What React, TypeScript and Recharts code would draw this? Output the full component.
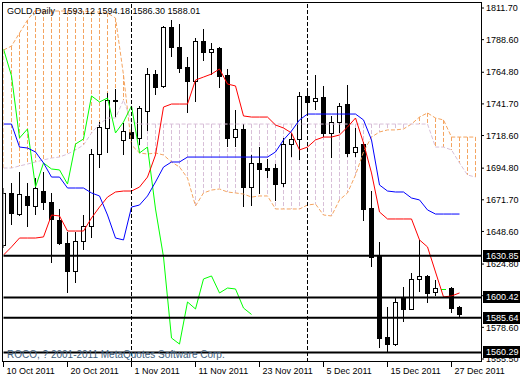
import { ComposedChart, Bar, Line, XAxis, YAxis, ReferenceLine } from 'recharts'

const FONT = '"Liberation Sans", Arial, sans-serif'

// x axis labels every 8 daily bars
const dateTicks = [0, 8, 16, 24, 32, 40, 48, 56]
const dateLabels = ['10 Oct 2011', '20 Oct 2011', '1 Nov 2011', '11 Nov 2011', '23 Nov 2011', '5 Dec 2011', '15 Dec 2011', '27 Dec 2011']
const priceTicks = [1811.7, 1788.6, 1764.8, 1741.7, 1718.6, 1694.8, 1671.7, 1648.6, 1624.8, 1601.7, 1578.6, 1555.5]
const levels = [1630.85, 1600.42, 1585.64, 1560.29]
const monthSeparators = [16, 38]

const open = [1638.7, 1676.7, 1661.3, 1674.5, 1667.2, 1678.1, 1670.1, 1657.0, 1640.2, 1619.7,
  1641.6, 1652.6, 1705.1, 1724.1, 1744.5, 1715.4, 1721.2, 1716.8, 1736.5, 1763.5,
  1754.8, 1797.8, 1783.2, 1768.6, 1758.4, 1787.6, 1779.6, 1782.5, 1762.8, 1717.5,
  1723.4, 1681.0, 1698.6, 1694.9, 1694.9, 1684.0, 1712.4, 1716.1, 1747.5, 1743.8,
  1746.7, 1720.5, 1728.5, 1741.6, 1706.6, 1712.4, 1665.7, 1630.7, 1571.6, 1566.4,
  1600.0, 1592.0, 1613.9, 1616.1, 1604.4, 1606.6, 1607.3, 1593.12]
const high = [1680.3, 1684.0, 1692.0, 1684.0, 1687.6, 1692.0, 1676.7, 1665.0, 1648.2, 1648.2,
  1660.6, 1708.8, 1728.5, 1749.7, 1752.6, 1727.8, 1724.1, 1740.2, 1767.9, 1766.4,
  1798.6, 1802.9, 1800.0, 1775.9, 1789.8, 1796.4, 1786.2, 1783.2, 1767.2, 1737.3,
  1727.0, 1704.4, 1710.2, 1701.5, 1697.8, 1716.8, 1720.5, 1750.4, 1750.4, 1762.8,
  1754.8, 1732.9, 1742.4, 1755.5, 1724.1, 1713.9, 1678.1, 1640.9, 1593.5, 1600.0,
  1608.1, 1618.3, 1642.4, 1616.8, 1613.2, 1606.6, 1608.1, 1594.18]
const low = [1636.5, 1653.3, 1659.9, 1651.9, 1660.6, 1664.3, 1625.6, 1638.7, 1603.7, 1611.0,
  1635.1, 1643.8, 1694.9, 1705.9, 1732.1, 1704.4, 1682.5, 1711.7, 1721.9, 1748.2,
  1753.3, 1775.9, 1764.3, 1735.1, 1743.1, 1773.0, 1762.8, 1753.3, 1710.2, 1710.2,
  1666.4, 1667.2, 1675.9, 1687.6, 1670.8, 1681.0, 1702.9, 1700.8, 1735.8, 1737.3,
  1717.5, 1702.2, 1720.5, 1702.9, 1702.9, 1656.2, 1622.7, 1563.5, 1560.6, 1565.0,
  1582.5, 1591.3, 1604.4, 1596.4, 1601.5, 1606.6, 1589.1, 1586.3]
const close = [1676.7, 1662.1, 1675.9, 1667.9, 1680.3, 1670.1, 1657.7, 1640.2, 1619.7, 1641.6,
  1652.6, 1705.1, 1724.8, 1744.5, 1743.5, 1721.9, 1716.8, 1738.7, 1763.5, 1754.0,
  1797.8, 1783.2, 1767.9, 1758.4, 1787.6, 1779.6, 1781.8, 1762.1, 1716.8, 1723.4,
  1681.0, 1698.6, 1694.2, 1693.5, 1683.2, 1712.4, 1716.1, 1747.5, 1743.1, 1746.0,
  1720.5, 1728.5, 1740.2, 1705.9, 1710.2, 1665.0, 1630.0, 1570.8, 1566.4, 1597.1,
  1592.0, 1613.9, 1616.1, 1603.7, 1607.3, 1606.6, 1592.7, 1588.01]

// Ichimoku lines
const tenkan = [1631.4, 1637.3, 1643.8, 1643.8, 1643.8, 1644.6, 1660.6, 1659.9, 1648.9, 1648.9,
  1648.9, 1658.4, 1666.4, 1673.7, 1677.4, 1678.1, 1678.1, 1681.0, 1688.3, 1704.4,
  1739.4, 1741.6, 1741.6, 1741.6, 1759.1, 1761.3, 1763.5, 1767.2, 1756.2, 1754.8,
  1732.9, 1732.1, 1732.1, 1732.1, 1726.3, 1724.1, 1720.5, 1708.1, 1710.2, 1715.4,
  1717.5, 1717.5, 1719.0, 1724.8, 1731.4, 1713.2, 1691.3, 1662.8, 1657.7, 1657.7,
  1657.7, 1657.7, 1642.4, 1637.3, 1619.0, 1600.8, 1601.5, 1603.7]
const kijun = [1727.0, 1727.0, 1710.2, 1709.5, 1706.6, 1698.6, 1688.3, 1688.3, 1680.3, 1680.3,
  1680.3, 1676.7, 1674.5, 1660.6, 1643.8, 1642.4, 1666.4, 1667.9, 1674.5, 1684.7,
  1695.6, 1699.3, 1699.3, 1702.9, 1702.9, 1702.9, 1702.9, 1702.9, 1702.9, 1702.9,
  1702.9, 1702.9, 1702.9, 1702.9, 1706.6, 1715.4, 1721.9, 1730.0, 1734.3, 1734.3,
  1734.3, 1734.3, 1734.3, 1734.3, 1734.3, 1730.0, 1715.4, 1682.5, 1678.1, 1677.4,
  1677.4, 1673.0, 1671.6, 1664.3, 1661.3, 1661.3, 1661.3, 1661.3]
const chikou = [1781.8, 1762.1, 1716.8, 1723.4, 1681.0, 1698.6, 1694.2, 1693.5, 1683.2, 1712.4,
  1716.1, 1747.5, 1743.1, 1746.0, 1720.5, 1728.5, 1740.2, 1705.9, 1710.2, 1665.0,
  1630.0, 1570.8, 1566.4, 1597.1, 1592.0, 1613.9, 1616.1, 1603.7, 1607.3, 1606.6,
  1592.7, 1588.01]
const spanA = [1781.0, 1783.9, 1793.4, 1802.9, 1810.2, 1809.5, 1809.5, 1809.5, 1809.5, 1809.5,
  1809.5, 1808.8, 1808.8, 1808.0, 1804.4, 1762.8, 1711.7, 1705.9, 1705.1, 1705.9,
  1704.4, 1699.3, 1695.6, 1687.6, 1667.2, 1676.7, 1678.8, 1679.6, 1677.4, 1676.7,
  1675.9, 1673.7, 1674.5, 1674.5, 1665.0, 1665.0, 1665.0, 1665.0, 1667.9, 1668.6,
  1660.6, 1659.9, 1671.6, 1676.7, 1689.8, 1706.6, 1717.5, 1721.2, 1722.7, 1722.7,
  1723.4, 1727.0, 1732.1, 1735.1, 1731.4, 1730.0, 1717.5, 1717.5, 1717.5, 1717.5]
const spanB = [1694.9, 1694.9, 1696.4, 1697.8, 1699.3, 1700.8, 1702.2, 1702.9, 1705.1, 1708.1,
  1711.7, 1720.5, 1727.0, 1731.4, 1731.4, 1744.5, 1728.5, 1727.0, 1727.0, 1727.0,
  1727.0, 1727.0, 1727.0, 1727.0, 1727.0, 1727.0, 1727.0, 1727.0, 1727.0, 1727.0,
  1727.0, 1727.0, 1727.0, 1727.0, 1727.0, 1727.0, 1727.0, 1727.0, 1727.0, 1727.0,
  1727.0, 1727.0, 1727.0, 1727.0, 1727.0, 1727.0, 1727.0, 1727.0, 1727.0, 1727.0,
  1727.0, 1727.0, 1727.0, 1727.0, 1710.2, 1710.2, 1708.1, 1698.6, 1689.8, 1688.3]

const rows = spanA.map((a, i) => ({
  i,
  open: open[i],
  high: high[i],
  low: low[i],
  close: close[i],
  tenkan: tenkan[i],
  kijun: kijun[i],
  chikou: chikou[i],
  spanA: a,
  spanB: spanB[i],
}))

const X_MAX = (520 - 39 - 3.5) / 8
const Y_DOMAIN = [1553.3, 1815.35]

function CandleShape(props: any) {
  const { x, y, width, height, payload } = props
  if (!payload || payload.high == null) return null
  const { open, high, low, close } = payload
  const cx = Math.floor(x + width / 2) + 0.5
  const top = Math.min(y, y + height)
  const h = Math.abs(height)
  if (high === low) {
    const yy = Math.round(top) + 0.5
    return <line x1={cx - 2.5} x2={cx + 2.5} y1={yy} y2={yy} stroke="#00FF00" />
  }
  const py = (v: number) => top + ((high - v) / (high - low)) * h
  const bTop = Math.round(py(Math.max(open, close))) + 0.5
  const bBot = Math.max(Math.round(py(Math.min(open, close))) + 0.5, bTop + 1)
  const up = close > open
  return (
    <g>
      <line x1={cx} x2={cx} y1={Math.round(top)} y2={Math.round(top + h)} stroke="#000" />
      <rect x={cx - 2} y={bTop} width={4} height={bBot - bTop} fill={up ? '#fff' : '#000'} stroke="#000" />
    </g>
  )
}

function HatchShape(props: any) {
  const { x, y, width, height, payload } = props
  if (!payload || payload.spanA == null) return null
  const cx = Math.floor(x + width / 2) + 0.5
  const top = Math.min(y, y + height)
  const color = payload.spanA >= payload.spanB ? '#F4A460' : '#D8BFD8'
  return <line x1={cx} x2={cx} y1={top} y2={top + Math.abs(height)} stroke={color} strokeDasharray="4 2" />
}

function DateTick(props: any) {
  const { x, y, payload } = props
  const px = Math.floor(x) + 0.5
  const k = dateTicks.indexOf(payload.value)
  return (
    <g>
      <line x1={px} x2={px} y1={y} y2={y + 5} stroke="#000" />
      <text x={px + 3} y={y + 12} fill="#000" fontSize={9} fontFamily={FONT}>{dateLabels[k]}</text>
    </g>
  )
}

// black price tags at the right end of the horizontal levels
function LevelTick(props: any) {
  const { y, payload } = props
  const cy = Math.round(y)
  return (
    <g>
      <rect x={483} y={cy - 6} width={37} height={12} fill="#000" />
      <text x={486} y={cy} dy="0.36em" fill="#fff" fontSize={9} fontFamily={FONT}>{payload.value.toFixed(2)}</text>
    </g>
  )
}

export default function App() {
  return (
    <div style={{ position: 'fixed', left: 0, top: 0, width: 520, height: 380, background: '#fff', fontFamily: FONT }}>
      <ComposedChart width={520} height={380} data={rows} margin={{ top: 3, right: 0, bottom: 0, left: 3.5 }}>
        <XAxis
          dataKey="i"
          type="number"
          domain={[0, X_MAX]}
          allowDataOverflow
          ticks={dateTicks}
          interval={0}
          height={18}
          axisLine={false}
          tickLine={false}
          tickSize={0}
          tickMargin={0}
          tick={<DateTick />}
        />
        <XAxis xAxisId="h" dataKey="i" type="number" domain={[0, X_MAX]} allowDataOverflow hide />
        <YAxis
          orientation="right"
          width={38}
          type="number"
          domain={Y_DOMAIN}
          allowDataOverflow
          ticks={priceTicks}
          interval={0}
          axisLine={false}
          tickSize={3}
          tickMargin={2}
          tickLine={{ stroke: '#000' }}
          tickFormatter={(v: number) => v.toFixed(2)}
          tick={{ fill: '#000', fontSize: 9, fontFamily: FONT }}
        />
        <YAxis
          yAxisId="tags"
          orientation="right"
          width={1}
          type="number"
          domain={Y_DOMAIN}
          allowDataOverflow
          ticks={levels}
          interval={0}
          axisLine={false}
          tickLine={false}
          tick={<LevelTick />}
        />
        <Bar
          xAxisId="h"
          dataKey={(d: any) => [Math.min(d.spanA, d.spanB), Math.max(d.spanA, d.spanB)]}
          barSize={5}
          shape={<HatchShape />}
          isAnimationActive={false}
        />
        <Line dataKey="spanA" stroke="#F4A460" strokeDasharray="4 2" dot={false} activeDot={false} isAnimationActive={false} />
        <Line dataKey="spanB" stroke="#D8BFD8" strokeDasharray="4 2" dot={false} activeDot={false} isAnimationActive={false} />
        <Line dataKey="chikou" stroke="#00FF00" dot={false} activeDot={false} isAnimationActive={false} />
        <Line dataKey="tenkan" stroke="#FF0000" dot={false} activeDot={false} isAnimationActive={false} />
        <Line dataKey="kijun" stroke="#0000FF" dot={false} activeDot={false} isAnimationActive={false} />
        <Bar
          dataKey={(d: any) => (d.high == null ? null : [d.low, d.high])}
          barSize={5}
          shape={<CandleShape />}
          isAnimationActive={false}
        />
        {monthSeparators.map((s) => (
          <ReferenceLine key={s} x={s} stroke="#000" strokeDasharray="4 2" />
        ))}
        {levels.map((v) => (
          <ReferenceLine key={v} y={v} stroke="#000" strokeWidth={2} />
        ))}
      </ComposedChart>
      <div
        style={{
          position: 'absolute', left: 2, top: 2, width: 480, height: 360,
          border: '1px solid #000', boxSizing: 'border-box', pointerEvents: 'none',
        }}
      />
      <div style={{ position: 'absolute', left: 7, top: 6, fontSize: 9, lineHeight: '10px', color: '#000', whiteSpace: 'pre' }}>
        {'GOLD,Daily   1593.12 1594.18 1586.30 1588.01'}
      </div>
      <div style={{ position: 'absolute', left: 7, top: 349, fontSize: 10, lineHeight: '11px', color: '#3f5f80', whiteSpace: 'pre' }}>
        {'ROCO, ? 2001-2011 MetaQuotes Software Corp.'}
      </div>
    </div>
  )
}
